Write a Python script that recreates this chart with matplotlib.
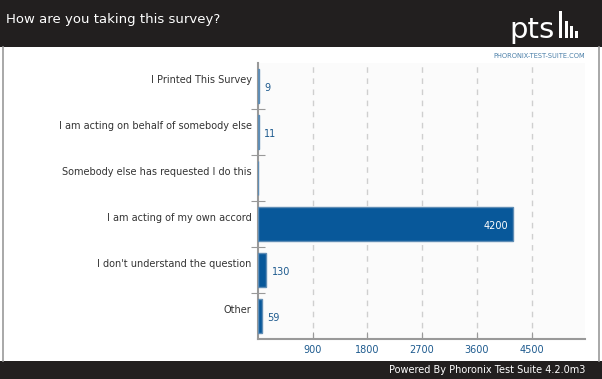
import matplotlib.pyplot as plt
from matplotlib.patches import Rectangle

# survey answers, top to bottom
categories = [
    "I Printed This Survey",
    "I am acting on behalf of somebody else",
    "Somebody else has requested I do this",
    "I am acting of my own accord",
    "I don't understand the question",
    "Other",
]
counts = [9, 11, 0, 4200, 130, 59]
xticks = [900, 1800, 2700, 3600, 4500]

BAR = "#08589a"
EDGE = "#5f8db5"
BLUE = "#1d5a8e"
DARK = "#221f1f"

fig = plt.figure(figsize=(6.02, 3.79), dpi=100)
fig.patch.set_facecolor("white")


def px_rect(x, y, w, h, color):
    # rectangle given in pixel coords from the top-left corner
    fig.add_artist(Rectangle((x / 602, 1 - (y + h) / 379), w / 602, h / 379,
                             transform=fig.transFigure, facecolor=color, edgecolor="none"))


# header / footer bands and side frame
px_rect(0, 0, 602, 47, DARK)
px_rect(0, 361, 602, 18, DARK)
for xf in (2.5 / 602, 599 / 602):
    fig.add_artist(plt.Line2D([xf, xf], [18 / 379, 1 - 47 / 379], transform=fig.transFigure,
                              color="#9a9a9a", lw=1.2))

fig.text(6 / 602, 1 - 20 / 379, "How are you taking this survey?", color="white",
         fontsize=9.5, va="center", ha="left")

# ptsl logo
fig.text(509 / 602, 1 - 38 / 379, "pts", color="white", fontsize=21, va="baseline",
         ha="left")
px_rect(559, 11, 3, 27, "white")
px_rect(565, 21, 3, 17, "white")
px_rect(570, 26, 3, 12, "white")
px_rect(575, 31, 3, 7, "white")

fig.text(585 / 602, 1 - 56 / 379, "PHORONIX-TEST-SUITE.COM", color="#4a7fa8",
         fontsize=4.8, va="center", ha="right")
fig.text(585 / 602, 9 / 379, "Powered By Phoronix Test Suite 4.2.0m3", color="white",
         fontsize=7, va="center", ha="right")

ax = fig.add_axes([258 / 602, 1 - 339 / 379, 327 / 602, 276 / 379])
ax.set_facecolor("#fbfbfb")

ypos = list(range(len(categories)))
ax.barh(ypos, counts, height=0.74, color=BAR, edgecolor=EDGE, linewidth=1, zorder=3)

ax.set_xlim(0, 5380)
ax.set_ylim(len(categories) - 0.5, -0.5)

ax.set_xticks(xticks)
ax.set_xticklabels([str(t) for t in xticks], color=BLUE, fontsize=7)
ax.tick_params(axis="x", direction="in", length=5, color="#999999", pad=4)
ax.set_yticks([i + 0.5 for i in ypos[:-1]])
ax.set_yticklabels([])
ax.tick_params(axis="y", direction="inout", length=10, color="#999999")

for x in xticks:
    ax.axvline(x, color="#cfcfcf", lw=1, ls=(0, (4, 4)), zorder=1)

for s in ("top", "right"):
    ax.spines[s].set_visible(False)
for s in ("left", "bottom"):
    ax.spines[s].set_color("#999999")
    ax.spines[s].set_linewidth(1.5)

for i, (cat, v) in enumerate(zip(categories, counts)):
    ax.annotate(cat, xy=(0, i), xycoords=ax.get_yaxis_transform(), xytext=(-4.5, 4.5),
                textcoords="offset points", ha="right", va="center", fontsize=7,
                color="#333333")
    if v == 0:
        continue
    if v > 2000:
        ax.annotate(str(v), xy=(v, i), xytext=(-4, -1.5), textcoords="offset points",
                    ha="right", va="center", fontsize=7, color="white", zorder=4)
    else:
        ax.annotate(str(v), xy=(v, i), xytext=(4, -1.5), textcoords="offset points",
                    ha="left", va="center", fontsize=7, color=BLUE, zorder=4)

fig.savefig("out.png", dpi=100)
